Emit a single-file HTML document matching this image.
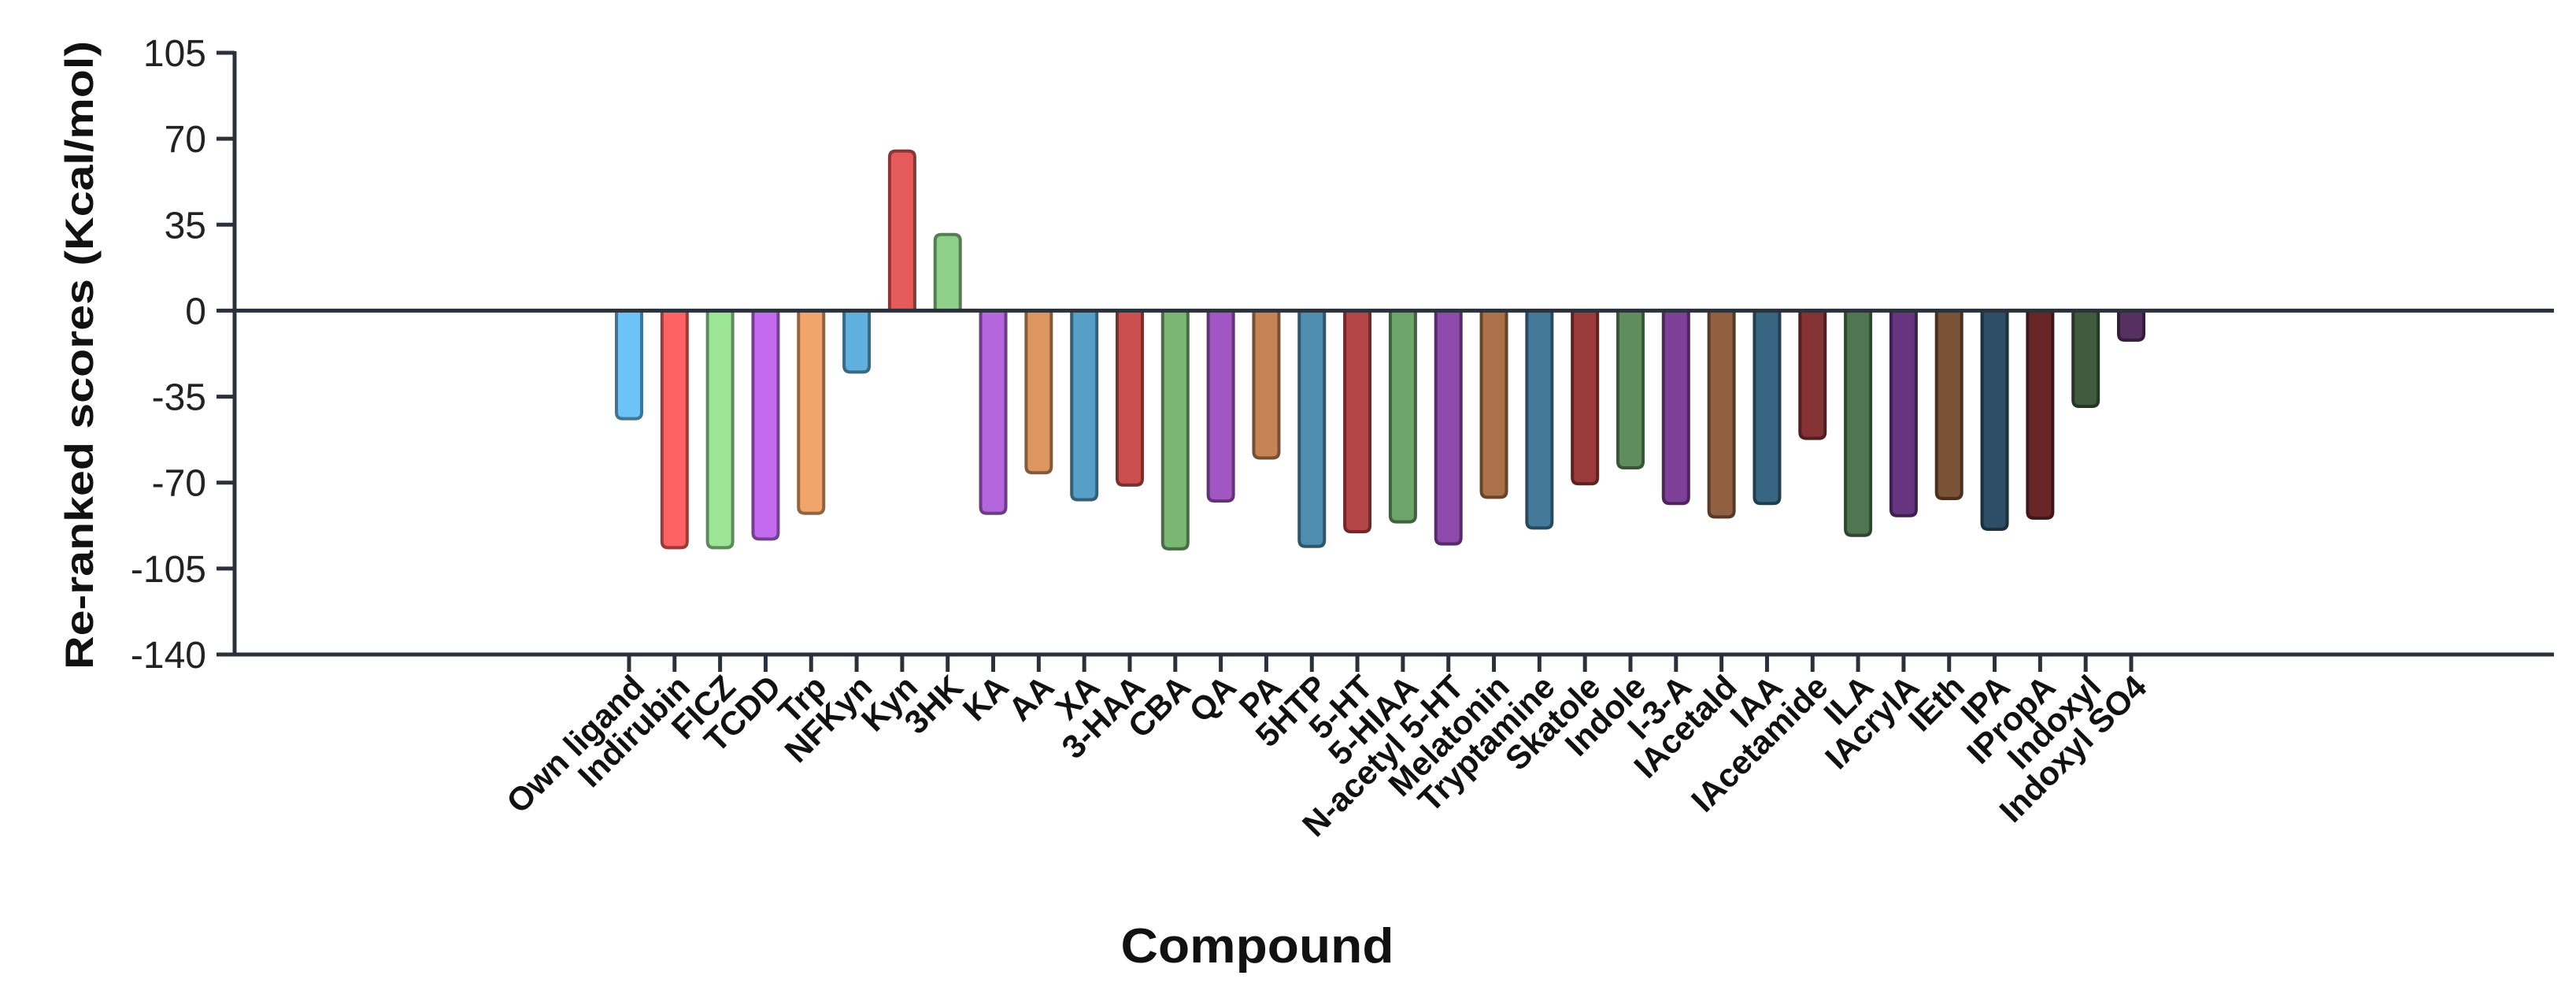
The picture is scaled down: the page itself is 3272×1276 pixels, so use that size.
<!DOCTYPE html>
<html><head><meta charset="utf-8"><style>html,body{margin:0;padding:0;background:#fff}svg{display:block}</style></head>
<body>
<svg id="chart" width="3272" height="1276" viewBox="0 0 3272 1276" xmlns="http://www.w3.org/2000/svg" font-family="'Liberation Sans', sans-serif">
<rect width="3272" height="1276" fill="#fff"/>
<g id="bars"></g>
<g id="axes"></g>
<text transform="translate(118,451) rotate(-90)" text-anchor="middle" font-size="50" font-weight="bold" fill="#111" textLength="798" lengthAdjust="spacingAndGlyphs">Re-ranked scores (Kcal/mol)</text>
<text x="1597" y="1222" text-anchor="middle" font-size="62" font-weight="bold" fill="#111" textLength="347" lengthAdjust="spacingAndGlyphs">Compound</text>
</svg>
<script>
const categories = ["Own ligand","Indirubin","FICZ","TCDD","Trp","NFKyn","Kyn","3HK","KA","AA","XA","3-HAA","CBA","QA","PA","5HTP","5-HT","5-HIAA","N-acetyl 5-HT","Melatonin","Tryptamine","Skatole","Indole","I-3-A","IAcetald","IAA","IAcetamide","ILA","IAcrylA","IEth","IPA","IPropA","Indoxyl","Indoxyl SO4"];
const values = [-44,-96.5,-96.5,-93,-82.5,-25,65,31,-82.5,-66,-77,-71,-97,-77.5,-60,-96,-90,-86,-95,-76,-88.5,-70.5,-64,-78.5,-84,-78.5,-52,-91.5,-83.5,-76.5,-89,-84.5,-39,-12];
const colors = ["#6cc3f5","#ff6262","#9de596","#c46af0","#f2a56a","#5fb0dc","#e55a5a","#8ed08a","#b466dc","#de9660","#579fc7","#cc4f50","#7ab775","#a256c3","#c68456","#4f8db0","#b54647","#6da46a","#8e4aab","#ab7149","#44799a","#9b3a3b","#5f8e5c","#7e3f98","#906040","#386682","#843233","#4f7650","#673580","#7a5236","#2d4e66","#692628","#3f5d3e","#553061"];
const yTicks = [105,70,35,0,-35,-70,-105,-140];
</script>
<script>
const NS="http://www.w3.org/2000/svg";
const yMin=-140,yMax=105,top0=67,bot0=831;
const axX=298,axRight=3244;
function yScale(v){return bot0-(v-yMin)/(yMax-yMin)*(bot0-top0);}
const x0=799,step=(2707-799)/(categories.length-1);
function xScale(i){return x0+i*step;}
function darken(h,f){const n=parseInt(h.slice(1),16);const r=(n>>16)&255,g=(n>>8)&255,b=n&255;return "rgb("+Math.round(r*f)+","+Math.round(g*f)+","+Math.round(b*f)+")";}
function mk(tag,attrs,parent){const e=document.createElementNS(NS,tag);for(const k in attrs)e.setAttribute(k,attrs[k]);parent.appendChild(e);return e;}
const bars=document.getElementById('bars'),axes=document.getElementById('axes');
const bw=32,r=8,z=yScale(0);
categories.forEach((c,i)=>{
  const cx=xScale(i),v=values[i],y=yScale(v);
  const x=cx-bw/2;let d;
  if(v<0){d=`M${x},${z} L${x},${y-r} Q${x},${y} ${x+r},${y} L${x+bw-r},${y} Q${x+bw},${y} ${x+bw},${y-r} L${x+bw},${z}`;}
  else{d=`M${x},${z} L${x},${y+r} Q${x},${y} ${x+r},${y} L${x+bw-r},${y} Q${x+bw},${y} ${x+bw},${y+r} L${x+bw},${z}`;}
  const p=mk('path',{d:d+' Z',fill:colors[i],stroke:darken(colors[i],0.6),'stroke-width':4},bars);
  
  
  const t=mk('line',{x1:cx,x2:cx,y1:bot0,y2:bot0+22,stroke:'#2b313a','stroke-width':5},axes);
  
  
  const lb=mk('text',{transform:`translate(${cx+22},${bot0+44}) rotate(-45)`,'text-anchor':'end','font-size':42,'font-weight':'bold',fill:'#111'},axes);
  lb.textContent=c;
  
  
});
yTicks.forEach(v=>{
  const y=yScale(v);
  const t=mk('line',{x1:axX-23,x2:axX,y1:y,y2:y,stroke:'#2b313a','stroke-width':5},axes);
  
  
  const l=mk('text',{x:axX-36,y:y+17,'text-anchor':'end','font-size':48,fill:'#222'},axes);
  l.textContent=v;
  
  
});
const ya=mk('line',{x1:axX,x2:axX,y1:top0-2,y2:bot0+2,stroke:'#2b313a','stroke-width':5},axes);


const xa=mk('line',{x1:axX-2,x2:axRight,y1:bot0,y2:bot0,stroke:'#2b313a','stroke-width':5},axes);


const zl=mk('line',{x1:axX,x2:axRight,y1:z,y2:z,stroke:'#2b313a','stroke-width':5},axes);


</script>
</body></html>
